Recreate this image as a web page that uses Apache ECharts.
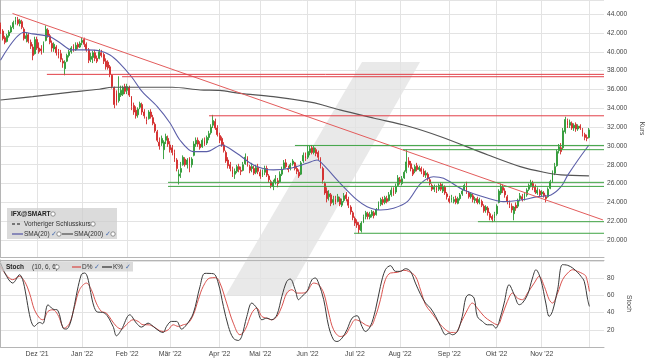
<!DOCTYPE html>
<html><head><meta charset="utf-8">
<script src="https://cdn.jsdelivr.net/npm/echarts@6/dist/echarts.min.js"></script>
<style>html,body{margin:0;padding:0;background:#fff}#c{width:645px;height:363px}</style>
</head><body><div id="c"></div>
<script>
// ---------- DATA (daily candles, index 0 = 8 Nov 2021, index 274 = 1 Dec 2022) ----------
const opens = [
42.9,42.2,41.5,41.1,41.7,42.1,42.6,43.1,43.4,43.0,
43.2,42.4,41.4,41.8,41.0,40.5,39.8,41.3,40.4,40.3,
40.1,41.2,42.3,41.7,40.9,40.3,40.5,40.0,39.8,39.0,
38.2,39.0,39.6,40.0,40.5,40.2,40.8,40.5,41.0,41.3,
40.8,40.2,39.2,39.4,39.9,39.3,39.3,39.9,39.7,39.0,
38.9,38.4,37.5,36.2,35.6,34.8,35.4,35.5,36.3,35.9,
36.2,35.2,34.3,33.8,33.3,34.1,34.4,33.6,32.8,32.9,
33.6,33.0,32.3,31.5,30.4,30.3,29.6,30.6,30.8,30.1,
29.8,29.3,28.5,26.8,27.2,28.0,28.6,28.0,28.6,28.0,
29.0,30.2,30.6,30.2,29.9,30.6,30.3,30.9,31.4,32.2,
32.6,31.9,31.1,30.8,30.1,29.3,28.5,28.0,27.5,27.0,
27.3,27.8,27.4,27.4,28.1,28.7,27.8,27.6,27.6,27.2,
27.7,27.2,26.9,27.2,27.6,26.8,26.2,25.7,26.2,26.3,
26.2,27.0,27.6,28.2,27.6,27.6,28.1,28.2,27.6,27.2,
27.0,28.4,29.0,28.8,29.3,29.8,29.3,29.6,29.3,28.6,
27.6,26.0,25.2,24.6,24.8,24.0,24.4,24.1,24.4,23.7,
24.2,24.8,24.3,23.5,22.9,22.3,21.9,21.6,21.0,21.9,
22.5,22.8,22.4,22.6,22.9,22.7,23.3,23.8,24.3,24.0,
24.4,24.2,24.8,25.3,25.1,25.8,26.4,26.0,26.6,27.3,
28.4,28.1,27.5,27.3,27.9,27.5,27.6,27.3,26.9,27.0,
26.4,25.8,25.4,25.6,25.4,25.9,25.2,25.6,24.9,24.4,
24.2,24.1,24.4,23.9,24.4,24.9,25.3,25.8,25.0,24.6,
24.7,24.2,24.4,24.0,24.1,23.6,23.2,23.4,22.8,22.5,
22.3,22.8,24.0,25.0,25.6,25.2,24.6,24.0,23.6,22.8,
23.7,23.6,24.4,24.6,24.4,24.8,25.4,25.8,26.0,25.6,
25.0,25.2,24.9,25.0,24.6,24.6,25.5,26.3,27.1,27.9,
29.5,29.8,29.8,31.5,32.7,32.2,32.4,31.9,32.3,31.8,
32.1,31.7,31.2,30.9,30.9];
const closes = [
42.2,41.4,41.0,41.7,42.1,42.6,43.1,43.4,43.0,43.3,
42.6,41.4,41.7,41.1,40.6,39.6,41.3,40.4,40.0,40.1,
40.9,42.4,41.7,41.0,40.4,40.8,39.9,39.6,39.2,38.8,
38.9,39.6,40.0,40.4,40.2,40.7,40.5,40.9,41.2,40.8,
40.2,39.1,39.5,39.9,39.3,39.0,40.0,39.6,39.0,38.4,
38.3,37.6,36.3,34.4,34.6,35.6,35.9,36.2,35.8,36.3,
35.4,34.2,33.6,33.2,33.9,34.5,33.6,33.2,32.6,33.6,
33.1,32.4,31.6,30.6,30.0,30.8,30.4,31.0,30.2,29.6,
29.3,28.6,27.6,27.0,27.6,28.8,28.0,28.5,28.2,28.6,
30.2,30.6,30.2,29.8,30.6,30.2,30.9,31.3,32.0,32.7,
31.9,31.2,30.6,30.1,29.5,28.4,27.9,27.6,27.0,27.3,
27.8,27.5,27.3,28.0,28.8,28.1,27.4,27.8,27.1,27.7,
27.3,26.8,27.2,27.6,26.9,26.4,25.8,26.1,26.5,26.0,
27.0,27.5,28.2,27.8,27.5,28.0,28.4,27.6,27.3,26.8,
28.2,29.0,28.7,29.4,29.7,29.3,29.8,29.2,28.8,27.8,
26.4,25.0,24.4,24.9,23.9,24.3,24.0,24.6,23.8,24.1,
24.7,24.4,23.7,23.0,22.4,21.8,21.6,21.1,21.8,22.5,
22.9,22.5,22.7,23.0,22.6,23.2,23.8,24.3,24.0,24.5,
24.1,24.8,25.3,25.0,25.7,26.6,26.2,26.5,27.2,28.3,
28.0,27.6,27.0,27.8,27.5,27.7,27.3,26.9,27.1,26.5,
26.0,25.4,25.6,25.3,25.8,25.4,25.7,25.0,24.6,24.1,
24.5,24.3,24.0,24.4,24.8,25.2,25.8,25.1,24.6,24.9,
24.3,24.4,24.0,24.3,23.7,23.1,23.5,22.9,22.4,22.2,
22.8,23.6,25.2,25.7,25.3,24.8,24.1,23.7,23.2,23.5,
23.4,24.2,24.7,24.3,24.9,25.3,25.8,26.1,25.6,25.1,
25.3,24.8,25.1,24.7,24.4,25.4,26.2,27.2,27.8,29.4,
29.9,29.4,31.6,32.8,32.2,32.5,31.9,32.2,31.8,32.1,
31.9,31.3,30.9,30.8,31.7];
const lows = [
41.9,41.2,40.8,41.0,41.5,42.0,42.4,42.9,42.8,42.7,
42.4,41.2,41.0,40.9,40.3,39.1,39.7,40.2,39.8,39.7,
39.9,41.1,41.5,40.8,40.0,40.0,39.6,39.3,38.9,38.3,
37.5,38.9,39.4,39.8,40.0,40.1,40.3,40.4,40.7,40.5,
40.0,38.8,38.9,38.8,39.0,38.8,39.2,39.4,38.7,38.1,
38.1,37.3,36.1,34.0,34.3,34.6,35.2,35.3,35.5,35.5,
35.2,33.8,33.3,32.9,33.0,33.9,33.3,32.9,32.3,32.8,
32.9,32.2,31.4,30.4,29.6,30.0,28.6,30.2,29.9,29.3,
29.0,28.3,27.3,25.9,26.6,27.9,27.8,27.6,27.2,27.7,
28.9,29.9,29.9,29.6,29.8,30.0,30.1,30.6,31.2,31.9,
31.7,31.0,30.3,29.9,29.3,28.2,27.6,27.3,26.7,26.5,
27.1,27.2,26.9,27.3,28.0,27.8,27.1,27.2,26.9,27.0,
27.0,26.5,26.7,26.9,26.7,26.1,25.5,25.3,25.9,25.6,
26.1,26.8,27.5,27.6,27.2,27.4,27.9,27.4,27.0,26.6,
26.9,28.2,28.4,28.6,29.0,29.1,29.1,28.9,28.5,27.6,
26.0,24.8,24.0,24.2,23.6,23.7,23.8,24.0,23.6,23.5,
24.0,24.1,23.4,22.7,22.1,21.5,21.3,20.7,20.8,21.8,
22.2,22.2,22.2,22.4,22.3,22.6,23.2,23.6,23.7,23.8,
23.9,24.1,24.6,24.7,24.9,25.7,25.9,25.8,26.5,27.1,
27.7,27.3,26.8,27.1,27.3,27.3,27.0,26.7,26.6,26.3,
25.8,25.2,25.1,25.0,25.2,25.2,25.0,24.8,24.3,23.9,
24.0,23.9,23.8,23.8,24.2,24.7,25.2,24.9,24.4,24.4,
24.0,23.9,23.8,23.8,23.5,22.9,22.9,22.6,22.1,21.9,
22.0,22.6,23.9,24.8,25.0,24.5,23.8,23.4,22.9,22.1,
23.1,23.4,24.1,24.1,24.2,24.6,25.2,25.6,25.3,24.9,
24.8,24.6,24.6,24.5,24.0,24.5,25.4,26.1,26.9,27.8,
29.2,29.1,29.6,31.3,31.9,31.9,31.7,31.6,31.5,31.6,
31.7,31.0,30.6,30.5,30.8];
const highs = [
43.1,42.4,41.7,41.9,42.3,42.8,43.3,43.7,43.7,43.5,
43.4,42.6,42.0,42.0,41.3,40.8,41.6,41.6,41.0,40.7,
41.1,42.8,42.5,41.9,41.2,41.0,40.7,40.3,40.2,39.3,
39.1,39.8,40.2,40.6,40.8,41.0,41.0,41.1,41.5,41.5,
41.0,40.4,39.9,40.1,40.2,39.6,40.3,40.2,39.9,39.3,
39.1,38.6,37.6,36.3,35.9,37.4,36.4,36.4,36.6,36.6,
36.4,35.3,34.6,34.2,34.1,34.7,34.6,33.9,33.1,33.8,
33.9,33.3,32.5,31.7,30.9,31.1,30.6,31.3,31.1,30.5,
30.1,29.6,28.7,27.5,28.3,29.0,28.8,28.7,28.8,28.8,
30.5,30.9,30.9,30.5,30.8,30.9,31.1,31.6,32.3,33.3,
32.9,32.2,31.4,31.0,30.4,29.5,28.8,28.3,27.8,27.6,
28.0,28.1,27.8,28.3,29.2,28.9,28.0,28.2,27.9,28.0,
28.1,27.5,27.5,27.9,27.9,27.0,26.4,26.4,26.9,26.6,
27.3,27.8,28.5,28.6,27.9,28.2,28.6,28.3,27.9,27.5,
28.4,29.3,29.3,30.1,30.0,30.1,30.0,29.8,29.5,28.8,
27.8,26.2,25.6,25.3,25.0,24.7,24.7,24.9,24.6,24.4,
25.0,25.1,24.6,23.7,23.1,22.5,22.2,21.9,22.0,22.7,
23.1,23.0,23.0,23.2,23.1,23.4,24.1,24.5,24.6,24.7,
24.7,25.1,25.6,25.6,26.0,26.9,26.7,26.8,27.4,29.6,
28.8,28.4,27.7,28.0,28.2,27.9,27.8,27.6,27.4,27.2,
26.6,26.0,25.9,25.8,26.0,26.1,26.0,25.8,25.1,24.7,
24.8,24.6,24.7,24.6,25.0,25.4,26.0,26.2,25.2,25.1,
24.9,24.6,24.6,24.5,24.3,23.8,23.7,23.6,23.0,22.7,
23.0,23.8,25.4,26.0,25.9,25.5,24.8,24.2,23.9,23.6,
24.0,24.4,25.0,24.9,25.1,25.5,26.0,26.4,26.3,25.9,
25.6,25.4,25.3,25.2,24.8,25.6,26.4,27.4,28.2,29.6,
30.2,30.3,31.9,33.1,32.9,32.8,32.6,32.4,32.5,32.3,
32.3,31.9,31.4,31.2,31.9];

// moving averages: [dayIndex, value]
const sma20 = [[0,39.1],[11,42.07],[15,41.9],[23,41.6],[28,40.9],[33,40.2],[40,40.2],[46,40.1],[51,39.66],[55.5,38.78],[61,37.35],[66,35.76],[73,34.17],[79,32.41],[83.5,30.63],[89.7,29.39],[96,29.39],[103,30.1],[110,29.22],[117.8,27.98],[127,27.45],[135,27.63],[142.7,28.16],[147.4,28.51],[150.4,27.98],[158.2,26.03],[166,24.26],[170.7,23.55],[177,23.2],[183,23.38],[189.4,24.08],[195.6,26.0],[201.6,26.73],[206.3,26.56],[215.7,25.32],[227,24.44],[234.3,24.08],[242.3,24.26],[250.2,24.61],[256.3,24.79],[261,25.67],[264.2,26.92],[268.9,28.51],[274,30.1]];
const sma200 = [[0,34.88],[15,35.23],[31,35.66],[46,36.02],[52,36.23],[70,36.23],[80,36.23],[93,35.94],[102,35.89],[111.5,35.59],[127,35.23],[143,34.7],[150,34.35],[158,33.82],[174,32.94],[189.5,32.12],[205,30.98],[227,29.04],[242,27.8],[253,27.2],[261,26.92],[274,26.81]];

// drawn lines: [startIndex, level]
const trendLine = [[5.6,44.07],[280.5,22.14]];
const redLevels = [[21.6,37.6],[56.6,37.35],[97.1,33.2]];
const greenLevels = [[137.1,30.05],[187.4,29.6],[78,26.13],[78,25.7],[222.3,21.95],[164.6,20.72]];

// stochastic (10,6,6)
const stochK = [[0,97.5],[5.7,74.2],[8.8,83.9],[15.8,23.9],[18.2,28.5],[19.7,27],[22.1,49],[24.4,44],[26.7,42.5],[29.1,21.9],[30.6,20.8],[37.6,83.9],[39.2,85.9],[44.6,41.3],[48.5,39.4],[52.4,23.9],[54,13],[56.3,20],[60.2,37.4],[63.3,27.7],[65.6,23.1],[68.7,27.7],[71.1,23.9],[74.2,18],[75.8,16.9],[77.3,23.9],[79.6,29.7],[82,29.7],[84.3,20.8],[86.6,25.8],[89.8,39.4],[92.9,70.4],[95.2,85.5],[99.1,85.1],[101.4,74.2],[103.8,47.1],[106.1,23.9],[108.4,10.3],[110.8,7.6],[112.3,12.2],[114.7,35.5],[117,51],[119.3,45.2],[121.7,31.6],[124,33.5],[126.3,31.6],[128.7,37.4],[131,58.7],[133.3,76.2],[134.9,78.9],[137.2,66.5],[138.8,54.9],[140.3,58.7],[142.7,64.5],[145,78.1],[146.6,80.1],[148.1,74.2],[150.5,54.9],[152.8,23.9],[155.1,8.3],[156.7,6.4],[159,10.3],[161.3,20],[163.7,33.5],[166,36.3],[168.3,23.9],[169.9,18],[172.2,23.9],[174.6,43.2],[176.9,70.4],[179.2,89.7],[181.6,94.4],[183.9,87.8],[186.2,87.8],[188.6,90.9],[190.9,87.8],[193.2,74.2],[195.6,61],[197.9,51],[200.2,45.2],[202.6,35.5],[204.9,23.9],[207.3,14.2],[208.8,16.1],[210.4,14.2],[212.7,18],[215,35.5],[216.6,56.8],[218.1,60.7],[220.5,56.8],[222,35.5],[224.4,29.7],[226.7,25.8],[229,25.8],[230.6,21.9],[232.2,29.7],[234.5,51],[236.8,72.3],[239.2,60.7],[241.5,49.1],[243,51],[245.4,60.7],[247.7,80.1],[249.3,89.7],[251.6,78.1],[253.9,51],[255.5,35.5],[257,41.3],[259.4,66.5],[261.7,95.6],[264.1,94.8],[266.4,91.7],[268.7,86.6],[270.3,82],[271.8,76.2],[273.4,54.9],[274.2,47.1]];
const stochD = [[0,93.6],[2.6,83.9],[5.7,78.1],[8.8,82],[11.2,76.2],[13.5,62.6],[15.8,43.2],[18.2,33.5],[19.7,31.6],[22.1,41.3],[24.4,43.2],[26.7,37.4],[29.8,21.9],[32.2,27.7],[34.5,47.1],[36.8,66.5],[40,74.2],[42.3,66.5],[44.6,51],[47,41.3],[49.3,39.4],[51.6,31.6],[54,23.9],[56.3,20.8],[58.6,25.8],[61.7,31.6],[64.1,29.7],[66.4,25.8],[68.7,25.8],[71.1,23.9],[73.4,20],[75.8,18],[78.1,20],[80.4,25.8],[82.8,23.9],[85.1,25.8],[87.4,27.7],[89.8,37.4],[92.1,54.9],[94.4,70.4],[97.5,80.1],[100.2,80.5],[102.2,74.2],[105.3,51],[108.4,27.7],[111.5,14.2],[113.9,20],[117,39.4],[119.3,45.2],[121.7,35.5],[124,33.5],[126.3,31.6],[128.7,35.5],[131,47.1],[133.3,62.6],[135.7,66.5],[138,62.6],[140.3,62.6],[142.7,64.5],[145.8,74.2],[148.1,72.3],[150.5,62.6],[152.8,39.4],[155.1,20],[158.2,12.2],[160.6,14.2],[162.9,23.9],[165.2,31.6],[167.6,29.7],[169.9,25.8],[172.2,23.9],[174.6,35.5],[176.9,54.9],[179.2,78.1],[181.6,85.9],[184.7,86.6],[187.8,89],[190.1,87.8],[193.2,82],[195.6,66],[197.9,49.1],[200.2,41.3],[202.6,33.5],[204.9,25.8],[207.3,20],[209.6,16.9],[211.9,16.9],[214.3,27.7],[217.4,43.2],[219.7,51],[222,45.2],[225.2,35.5],[228.3,29.7],[231.4,25.8],[233.7,37.4],[236,52.9],[238.4,62.6],[240.7,56.8],[243,54.9],[245.4,62.6],[248.5,74.2],[250.8,82],[253.2,70.4],[255.5,54.9],[257,51],[259.4,62.6],[261.7,78.1],[264.1,85.9],[266.4,89.7],[268.7,87.8],[271.1,85.1],[272.6,82],[274.2,64.5]];

// axis ticks
const monthIdx = [17,38,59,79,102,121,143,165,186,209,231,252,274];
const monthLabels = ["Dez '21","Jan '22","Feb '22","Mär '22","Apr '22","Mai '22","Jun '22","Jul '22","Aug '22","Sep '22","Okt '22","Nov '22",""];
const priceMin = 18.2, priceMax = 45.5;

// ---------- CHART ----------
const N = 282; // trading-day slots incl. empty space right of last candle
const cats = Array.from({length: N}, (_, i) => String(i));
const candleData = opens.map((o, i) => [o, closes[i], lows[i], highs[i]]);
const FONT = "'Liberation Sans', Arial, sans-serif";
const UP = '#2f9a36', DOWN = '#d22a2a';
const GRID_C = '#e3e3e3';
const isMonth = i => monthIdx.indexOf(i) >= 0;

const series = [];
series.push({type:'candlestick', xAxisIndex:0, yAxisIndex:0, data:candleData, barWidth:1.4,
  itemStyle:{color:UP, color0:DOWN, borderColor:UP, borderColor0:DOWN, borderWidth:0.9}, z:3});
series.push({type:'line', xAxisIndex:1, yAxisIndex:0, data:sma200, showSymbol:false, smooth:0.3,
  lineStyle:{color:'#555555', width:1.2}, z:4});
series.push({type:'line', xAxisIndex:1, yAxisIndex:0, data:sma20, showSymbol:false, smooth:0.3,
  lineStyle:{color:'#5b5ea8', width:1.1}, z:4});
series.push({type:'line', xAxisIndex:1, yAxisIndex:0, data:trendLine, showSymbol:false,
  lineStyle:{color:'#e35c5c', width:1}, z:5});
redLevels.forEach(([s, v]) => series.push({type:'line', xAxisIndex:1, yAxisIndex:0,
  data:[[s, v],[N-1, v]], showSymbol:false, lineStyle:{color:'#e23f48', width:1}, z:5}));
greenLevels.forEach(([s, v]) => series.push({type:'line', xAxisIndex:1, yAxisIndex:0,
  data:[[s, v],[N-1, v]], showSymbol:false, lineStyle:{color:'#3fa444', width:1}, z:5}));
series.push({type:'line', xAxisIndex:3, yAxisIndex:1, data:stochD, showSymbol:false, smooth:0.35,
  lineStyle:{color:'#d9534f', width:1}, z:4});
series.push({type:'line', xAxisIndex:3, yAxisIndex:1, data:stochK, showSymbol:false, smooth:0.35,
  lineStyle:{color:'#3a3a3a', width:1}, z:5});

const txt = (x, y, s, opt) => Object.assign({type:'text', x, y, z:101,
  style:Object.assign({text:s, fill:'#333', font:'6.5px ' + FONT, textVerticalAlign:'middle'}, opt || {})});
const seg = (x1, x2, y, color, dash) => ({type:'line', z:101,
  shape:{x1, y1:y, x2, y2:y}, style:{stroke:color, lineWidth:1.3, lineDash:dash || null}});
const icon = (x, y) => ({type:'circle', z:101, shape:{cx:x, cy:y, r:2.2},
  style:{fill:'#fff', stroke:'#777', lineWidth:0.8}});

const graphics = [
  {type:'polygon', z:-10, shape:{points:[[362,62],[420,62],[287,295],[226,295]]}, style:{fill:'#e9e9e9'}},
  // main legend
  {type:'rect', z:100, shape:{x:7, y:208, width:110, height:31}, style:{fill:'rgba(205,205,205,0.72)'}},
  txt(11, 214, 'IFX@SMART', {font:'bold 6.5px ' + FONT, fill:'#222'}), icon(53, 214),
  seg(12, 21, 224, '#555', [3,2]), txt(24, 224, 'Vorheriger Schlusskurs', {fill:'#333'}), icon(93, 224),
  seg(12, 23, 234, '#5b5ea8'), txt(24, 234, 'SMA(20)'), txt(51, 234, '✓', {fill:'#4a6fb0'}), icon(59, 234),
  seg(62, 73, 234, '#555'), txt(74, 234, 'SMA(200)'), txt(105, 234, '✓', {fill:'#4a6fb0'}), icon(113, 234),
  // stoch legend
  {type:'rect', z:100, shape:{x:0, y:262, width:133, height:9.5}, style:{fill:'rgba(205,205,205,0.72)'}},
  txt(6, 267, 'Stoch', {font:'bold 6.5px ' + FONT, fill:'#222'}),
  txt(32, 267, '(10, 6, 6)'), icon(57, 267),
  seg(72, 81, 267, '#d9534f'), txt(82, 267, 'D%'), txt(94, 267, '✓', {fill:'#4a6fb0'}),
  seg(102, 112, 267, '#3a3a3a'), txt(113, 267, 'K%'), txt(125, 267, '✓', {fill:'#4a6fb0'})
];

const option = {
  animation:false, backgroundColor:'#ffffff',
  textStyle:{fontFamily:FONT},
  grid:[
    {left:0.5, top:0, width:603.5, height:257, containLabel:false, outerBoundsMode:'none'},
    {left:0.5, top:260, width:603.5, height:87, containLabel:false, outerBoundsMode:'none'}
  ],
  xAxis:[
    {type:'category', gridIndex:0, data:cats, boundaryGap:false,
     axisLine:{show:true, lineStyle:{color:'#b5b5b5'}}, axisTick:{show:false}, axisLabel:{show:false},
     splitLine:{show:true, interval:(i) => isMonth(i), lineStyle:{color:GRID_C}}},
    {type:'value', gridIndex:0, min:0, max:N-1, show:false},
    {type:'category', gridIndex:1, data:cats, boundaryGap:false,
     axisLine:{show:true, lineStyle:{color:'#b5b5b5'}}, axisTick:{show:false},
     axisLabel:{show:true, interval:(i) => isMonth(i) && monthLabels[monthIdx.indexOf(i)] !== '',
       formatter:(v) => { const k = monthIdx.indexOf(Number(v)); return k >= 0 ? monthLabels[k] : ''; },
       color:'#444', fontSize:6.9, fontFamily:FONT, margin:4},
     splitLine:{show:true, interval:(i) => isMonth(i), lineStyle:{color:GRID_C}}},
    {type:'value', gridIndex:1, min:0, max:N-1, position:'top',
     axisLine:{show:true, lineStyle:{color:'#b5b5b5'}}, axisTick:{show:false}, axisLabel:{show:false}, splitLine:{show:false}}
  ],
  yAxis:[
    {type:'value', gridIndex:0, position:'right', min:priceMin, max:priceMax, splitNumber:14,
     axisLine:{show:true, lineStyle:{color:'#b5b5b5'}}, axisTick:{show:false},
     axisLabel:{color:'#444', fontSize:6.6, fontFamily:FONT, margin:3, showMinLabel:false, showMaxLabel:false,
       formatter:(v) => v.toFixed(3)},
     splitLine:{show:true, lineStyle:{color:GRID_C}},
     name:'Kurs', nameLocation:'middle', nameRotate:-90, nameGap:23,
     nameTextStyle:{color:'#444', fontSize:6.6, fontFamily:FONT}},
    {type:'value', gridIndex:1, position:'right', min:0, max:101, interval:20,
     axisLine:{show:true, lineStyle:{color:'#b5b5b5'}}, axisTick:{show:false},
     axisLabel:{color:'#444', fontSize:6.6, fontFamily:FONT, margin:3,
       formatter:(v) => (v > 0 && v < 100) ? String(v) : ''},
     splitLine:{show:true, lineStyle:{color:GRID_C}},
     name:'Stoch', nameLocation:'middle', nameRotate:-90, nameGap:10,
     nameTextStyle:{color:'#444', fontSize:6.6, fontFamily:FONT}}
  ],
  graphic:{elements:graphics},
  series
};
const chart = echarts.init(document.getElementById('c'), null, {renderer:'canvas'});
chart.setOption(option);
</script></body></html>
